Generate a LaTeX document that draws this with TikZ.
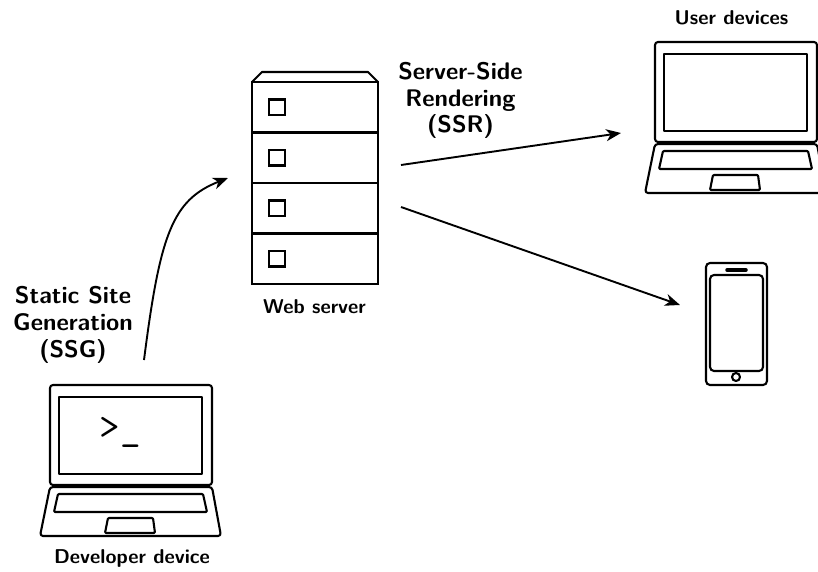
\documentclass[tikz,border=0pt]{standalone}
\usepackage{xcolor}
\usepackage{tikz}
\usetikzlibrary{arrows.meta, positioning}

\tikzset{
    pics/laptop/.style={code={
        \draw[device, rounded corners=3pt] (0,0) rectangle (162,100);
        \draw[device] (9,12) rectangle (152,89);
        \draw[device, rounded corners=3pt] (0,102) -- (162,102) -- (171,151) -- (-10,151) -- cycle;
        \draw[device, rounded corners=1pt] (8,109) -- (153,109) -- (157,127) -- (4,127) -- cycle;
        \draw[device, rounded corners=1pt] (58,133) -- (103,133) -- (105,148) -- (55,148) -- cycle;
    }}
}

\begin{document}
\begin{tikzpicture}[x=1pt, y=-1pt]

    % Define style for parts and labels
    \tikzstyle{device} = [line width=2.1pt, line join=round]
    \tikzstyle{row} = [rectangle, draw=black, line width=2.1pt, minimum width=126pt, minimum height=50.5pt, outer sep=0pt, inner sep=0pt]
    \tikzstyle{slot} = [rectangle, draw=black, line width=2.1pt, minimum width=15.5pt, minimum height=15.5pt, outer sep=0pt, inner sep=0pt]
    \tikzstyle{big} = [align=center, font=\fontsize{24}{26.8}\selectfont\sffamily\bfseries]
    \tikzstyle{small} = [align=center, font=\fontsize{20}{24}\selectfont\sffamily\bfseries]
    \tikzstyle{flow} = [-{Stealth[length=15pt, width=12pt, inset=4.5pt]}, line width=1.9pt]

    \useasboundingbox (0,0) rectangle (818,572);

    % Web server
    \node (rowone) [row, anchor=north] at (315,82) {};
    \node (rowtwo) [row, below=0pt of rowone] {};
    \node (rowthree) [row, below=0pt of rowtwo] {};
    \node (rowfour) [row, below=0pt of rowthree] {};
    \draw[device] (rowone.north west) -- (262,72) -- (368,72) -- (rowone.north east);
    \node (slotone) [slot] at ([xshift=25pt]rowone.west) {};
    \node (slottwo) [slot] at ([xshift=25pt]rowtwo.west) {};
    \node (slotthree) [slot] at ([xshift=25pt]rowthree.west) {};
    \node (slotfour) [slot] at ([xshift=25pt]rowfour.west) {};
    \node (weblabel) [small] at (314.5,307) {Web server};

    % Devices
    \pic at (50,385) {laptop};
    \pic at (655,42) {laptop};
    \node (prompt) at (120,432) {\fontsize{40}{40}\selectfont\ttfamily >\_};

    % Phone
    \draw[device, rounded corners=4pt] (706,263) rectangle (767,385);
    \draw[device, rounded corners=4pt] (710,275) rectangle (763,371);
    \draw[line width=3.5pt, line cap=round] (727,270) -- (746,270);
    \draw[device] (736,377) circle (4pt);

    % Labels
    \node (devlabel) [small] at (132,558) {Developer device};
    \node (userlabel) [small] at (731.5,18) {User devices};
    \node (ssglabel) [big] at (73,325) {Static Site\\Generation\\(SSG)};
    \node (ssrlabel) [big] at (460.5,100.5) {Server-Side\\Rendering\\(SSR)};

    % Lines
    \coordinate (ssgstart) at (144,360);
    \coordinate (ssgend) at (228,178);
    \coordinate (ssrstart) at (401,165);
    \coordinate (ssrend) at (621,133);
    \coordinate (phonestart) at (401,207);
    \coordinate (phoneend) at (680,305);
    \draw[flow] (ssgstart) .. controls (160,235) and (172,200) .. (ssgend);
    \draw[flow] (ssrstart) -- (ssrend);
    \draw[flow] (phonestart) -- (phoneend);

\end{tikzpicture}
\end{document}
